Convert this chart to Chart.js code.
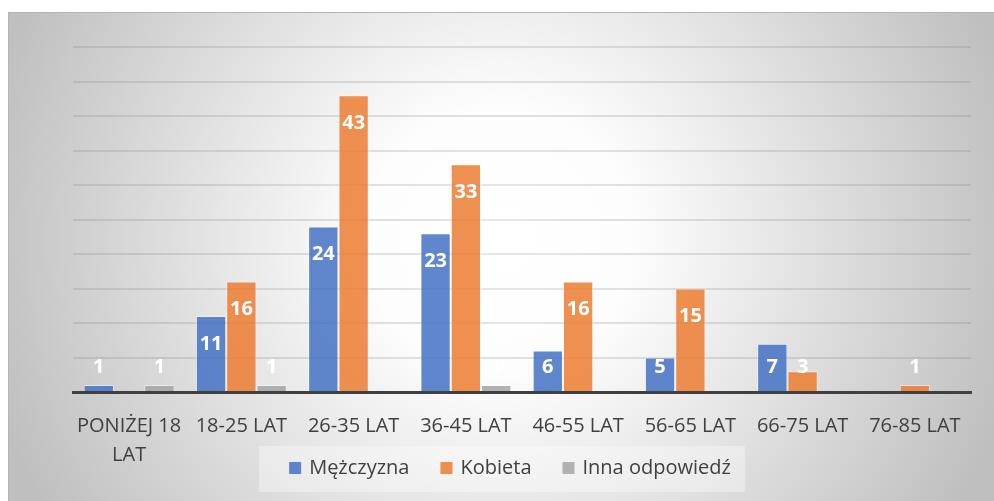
<!DOCTYPE html>
<html>
<head>
<meta charset="utf-8">
<script src="https://cdn.jsdelivr.net/npm/chart.js@4"></script>
<style>
  body { margin: 0; background: #fff; }
  #wrap { width: 994px; height: 501px; }
</style>
</head>
<body>
<div id="wrap"><canvas id="myChart"></canvas></div>
<script>
const categories = [["PONIŻEJ 18", "LAT"], "18-25 LAT", "26-35 LAT", "36-45 LAT", "46-55 LAT", "56-65 LAT", "66-75 LAT", "76-85 LAT"];
const men = [1, 11, 24, 23, 6, 5, 7, 0];
const women = [0, 16, 43, 33, 16, 15, 3, 1];
const other = [1, 1, 0, 1, 0, 0, 0, 0];
const seriesNames = ["Mężczyzna", "Kobieta", "Inna odpowiedź"];
const seriesColors = ["rgba(68,114,196,0.85)", "rgba(237,125,49,0.85)", "rgba(165,165,165,0.85)"];

const FONT = "'Open Sans'";

// grey box with the light spot in the middle
const backdrop = {
  id: "backdrop",
  beforeDraw(chart) {
    const c = chart.ctx;
    c.save();
    c.fillStyle = "#fff";
    c.fillRect(0, 0, chart.width, chart.height);
    const g = c.createRadialGradient(500, 240, 0, 500, 240, 530);
    g.addColorStop(0, "#ffffff");
    g.addColorStop(0.25, "#fdfdfd");
    g.addColorStop(1, "#bfbfbf");
    c.fillStyle = g;
    c.fillRect(8, 12, chart.width - 8, chart.height - 12);
    c.strokeStyle = "#b5b5b5";
    c.lineWidth = 1;
    c.beginPath();
    c.moveTo(8, 12.5);
    c.lineTo(chart.width, 12.5);
    c.moveTo(8.5, 12);
    c.lineTo(8.5, chart.height);
    c.stroke();
    c.restore();
  }
};

// legend drawn by hand so it can sit under the two-line label
const bottomLegend = {
  id: "bottomLegend",
  afterDraw(chart) {
    const c = chart.ctx;
    c.save();
    c.font = "20px " + FONT;
    const items = chart.data.datasets.map(ds => ({ text: ds.label, color: ds.backgroundColor, w: c.measureText(ds.label).width }));
    const box = 12, gap = 8, space = 31;
    let total = 0;
    items.forEach((it, i) => { total += box + gap + it.w + (i ? space : 0); });
    let x = 510 - total / 2;
    const y = 468;
    c.fillStyle = "rgba(255,255,255,0.35)";
    c.fillRect(x - 30, 446, total + 44, 46);
    c.textBaseline = "middle";
    items.forEach(it => {
      c.fillStyle = it.color;
      c.fillRect(x, y - 6, box, box);
      c.fillStyle = "#404040";
      c.fillText(it.text, x + box + gap, y);
      x += box + gap + it.w + space;
    });
    c.restore();
  }
};

// white value labels near the top of each bar
const barLabels = {
  id: "barLabels",
  afterDatasetsDraw(chart) {
    const c = chart.ctx;
    c.save();
    c.font = "bold 20px " + FONT;
    c.fillStyle = "#fff";
    c.textAlign = "center";
    c.textBaseline = "middle";
    chart.data.datasets.forEach((ds, i) => {
      chart.getDatasetMeta(i).data.forEach((bar, j) => {
        if (!ds.data[j]) return;
        const y = Math.min(bar.y + 28, bar.base - 24);
        c.fillText(ds.data[j], bar.x, y);
      });
    });
    c.restore();
  }
};

function gridColor(context) {
  const c = context.chart.ctx;
  const g = c.createRadialGradient(500, 240, 0, 500, 240, 530);
  g.addColorStop(0, "#e8e8e8");
  g.addColorStop(0.3, "#dedede");
  g.addColorStop(1, "#b0b0b0");
  return g;
}

const ctx = document.getElementById("myChart");
new Chart(ctx, {
  type: "bar",
  data: {
    labels: categories,
    datasets: [
      {
        label: seriesNames[0],
        data: men,
        backgroundColor: seriesColors[0],
        borderColor: "rgba(255,255,255,0.45)",
        borderWidth: 1,
      },
      {
        label: seriesNames[1],
        data: women,
        backgroundColor: seriesColors[1],
        borderColor: "rgba(255,255,255,0.45)",
        borderWidth: 1,
      },
      {
        label: seriesNames[2],
        data: other,
        backgroundColor: seriesColors[2],
        borderColor: "rgba(255,255,255,0.45)",
        borderWidth: 1,
      }
    ]
  },
  options: {
    responsive: true,
    maintainAspectRatio: false,
    animation: false,
    devicePixelRatio: 1,
    datasets: {
      bar: { categoryPercentage: 0.81, barPercentage: 1.0 }
    },
    layout: {
      padding: { top: 47, left: 73, right: 23, bottom: 0 }
    },
    plugins: {
      tooltip: { enabled: false },
      legend: { display: false }
    },
    scales: {
      x: {
        grid: { display: false, drawTicks: false },
        border: { display: true, color: "#404040", width: 3 },
        ticks: {
          color: "#404040",
          font: { family: FONT, size: 20, lineHeight: 1.45 },
          padding: 20,
          maxRotation: 0,
          autoSkip: false,
        },
        afterFit(scale) {
          scale.height = 109;
        }
      },
      y: {
        min: 0,
        max: 50,
        ticks: { display: false, stepSize: 5 },
        grid: { color: gridColor, lineWidth: 2, drawTicks: false },
        border: { display: false },
      }
    }
  },
  plugins: [backdrop, barLabels, bottomLegend]
});
</script>
</body>
</html>
